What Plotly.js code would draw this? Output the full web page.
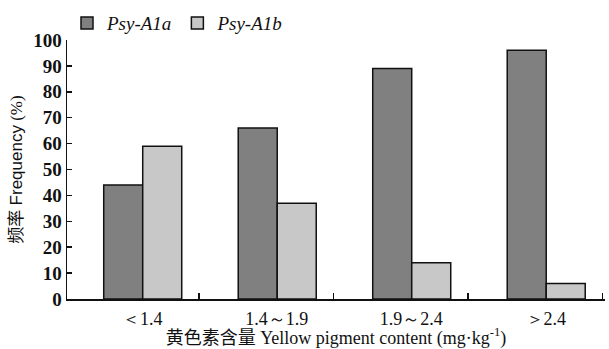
<!DOCTYPE html>
<html><head><meta charset="utf-8">
<script src="https://cdn.plot.ly/plotly-3.0.1.min.js"></script>
<style>body{margin:0;background:#fff}#c{width:609px;height:349px}</style>
</head><body><div id="c"></div>
<script>
const categories = ["＜1.4", "1.4～1.9", "1.9～2.4", "＞2.4"];
const psyA1a = [44, 66, 89, 96];
const psyA1b = [59, 37, 14, 6];
const seriesNames = ["Psy-A1a", "Psy-A1b"];
const yTicks = [0,10,20,30,40,50,60,70,80,90,100];

const xPos = categories.map((c,i)=>i);
const labelPos = categories.map((c,i)=>i+0.06);
const boundaryTicks = categories.map((c,i)=>i+0.48);

const serif = "Liberation Serif, serif";
const cjk = 'font-family:Noto Sans CJK SC';
const line = {color:'#111', width:1.5};
const traces = [
  {type:'bar', x:xPos, y:psyA1a, name:seriesNames[0], width:0.29, offset:-0.227,
   marker:{color:'#808080', line:line}},
  {type:'bar', x:xPos, y:psyA1b, name:seriesNames[1], width:0.29, offset:0.063,
   marker:{color:'#c8c8c8', line:line}}
];
const layout = {
  width:609, height:349,
  margin:{l:67, r:4, t:36, b:50},
  paper_bgcolor:'#fff', plot_bgcolor:'#fff',
  showlegend:true,
  legend:{orientation:'h', x:0.0, y:1.065, xanchor:'left', yanchor:'middle',
    font:{family:serif, size:19, color:'#111', style:'italic'},
    itemwidth:30, bgcolor:'rgba(0,0,0,0)'},
  xaxis:{range:[-0.5,3.5], showgrid:false, zeroline:false,
    showline:true, linecolor:'#111', linewidth:1.5,
    tickmode:'array', tickvals:labelPos, ticktext:categories, ticks:'outside', ticklen:3, tickcolor:'rgba(0,0,0,0)',
    tickfont:{family:serif, size:18, color:'#111'},
    minor:{tickmode:'array', tickvals:boundaryTicks, ticks:'inside', ticklen:6, tickwidth:1.5, tickcolor:'#111', showgrid:false},
    title:{text:'<span style="'+cjk+'">黄色素含量</span> Yellow pigment content (mg·kg<sup>-1</sup>)', font:{family:serif, size:18, color:'#111'}, standoff:1}
  },
  yaxis:{range:[0,100], showgrid:false, zeroline:false,
    showline:true, linecolor:'#111', linewidth:1.5,
    tickmode:'array', tickvals:yTicks, ticks:'inside', ticklen:5, tickwidth:1.5, tickcolor:'#111',
    tickfont:{family:serif, size:19, color:'#111', weight:'bold'},
    title:{text:'<span style="'+cjk+'">频率</span> <span style="font-family:Liberation Sans">Frequency</span> (%)', font:{family:serif, size:17, color:'#111'}, standoff:6}
  },
  bargap:0
};
Plotly.newPlot('c', traces, layout, {displayModeBar:false, staticPlot:true});
</script></body></html>
